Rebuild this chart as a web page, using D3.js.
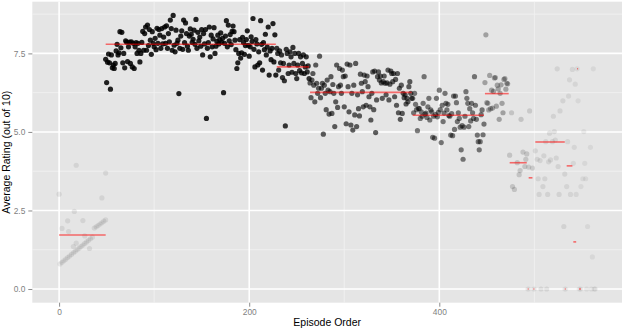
<!DOCTYPE html>
<html>
<head>
<meta charset="utf-8">
<script src="https://cdn.jsdelivr.net/npm/d3@7"></script>
<style>
  body { margin: 0; background: #fff; }
  svg { display: block; }
  text { font-family: "Liberation Sans", Arial, Helvetica, sans-serif; }
</style>
</head>
<body>
<svg id="chart" width="625" height="332"></svg>
<script>
// ---- Episode ratings, one array per season (consecutive episodes, null = no rating) ----
const s1Ratings = [3.02,
  0.80, null, 0.85, null, 0.90, null, 0.95, null, 1.00, null, 1.05, null, 1.10, null, 1.15, null, 1.20, null,
  1.25, null, 1.30, null, 1.35, null, 1.40, null, 1.45, null, 1.50, null, 1.55, null, 1.60, null, 1.65, null,
  1.94, null, 1.98, null, 2.02, null, 2.07, null, 2.11, null, 2.16, null, 2.20];
// season 1 episodes listed a second time (episode order, rating)
const s1Extra = [[3, 1.93], [9, 2.17], [10, 1.83], [15, 1.35], [16, 2.47], [18, 3.94], [18, 1.46],
  [25, 2.18], [27, 1.69], [32, 1.29], [45, 2.90], [49, 3.69]];
const s2Ratings = [
  7.31, 6.57, 7.22, 7.48, 7.20, 6.36, 7.45, 7.04, 7.13, 7.02,
  7.18, 7.58, 7.79, 7.45, 7.52, 8.19, 7.68, 8.17, 7.20, 7.50,
  7.04, 7.90, 7.86, 7.24, 7.71, 7.86, 7.18, 7.87, 7.07, 7.82,
  7.02, 7.71, 7.84, 7.50, 7.82, 7.60, 7.23, 7.50, 7.85, 8.20,
  7.60, 8.13, 8.34, 7.60, 8.40, 7.75, 8.26, 7.92, 7.47, 8.19,
  7.82, 7.71, 7.98, 7.62, 8.30, 7.82, 8.26, 8.08, 7.66, 8.29,
  7.80, 8.02, 8.34, 7.82, 8.38, 7.66, 8.13, 7.87, 8.56, 8.29,
  7.60, 8.71, 7.76, 7.55, 8.24, 7.82, 7.92, 6.22, 7.66, 8.05,
  8.22, 7.63, 8.56, 7.84, 8.47, 8.13, 7.73, 7.60, 8.05, 8.28,
  8.11, 7.85, 7.95, 8.24, 7.79, 8.58, 7.66, 8.17, 7.90, 8.02,
  7.73, 8.26, 7.45, 8.13, 7.80, 8.26, 5.43, 7.66, 7.84, 8.34,
  7.39, 8.08, 7.71, 7.96, 8.32, 7.50, 7.73, 7.88, 8.08, 7.80,
  7.94, 8.15, 7.85, 7.98, 6.25, 7.82, 8.05, 8.54, 7.71, 8.40,
  7.90, 8.10, 7.78, 8.20, 8.37, 8.19, 7.92, 7.62, 7.02, 7.20,
  7.50, 7.94, 7.35, 7.52, 8.01, 7.85, 7.47, 7.75, 7.94, 8.22,
  7.76, 7.41, 7.71, 8.03, 7.88, 8.61, 7.63, 7.07, 7.94, 7.80,
  7.13, 7.55, 7.20, 8.54, 7.79, 6.97, 7.84, 7.62, 8.11, 7.45,
  7.70, 8.34, 6.81, 7.58, 7.30, 7.66, 8.45, 7.23, 8.09, 6.81];
const s3Ratings = [
  7.66, 7.50, 6.97, 7.58, 7.20, 7.45, 6.73, 7.18, 6.63, 5.19,
  7.63, 7.50, 6.86, 7.13, 7.55, 7.39, 6.90, 7.69, 7.18, 7.50,
  6.86, 6.70, 7.13, 7.50, 6.95, 7.39, 6.88, 7.18, 7.45, 6.86,
  7.07, 7.39, 6.91, 7.10, 6.70];
const s4Ratings = [
  6.56, 6.09, 6.65, 6.86, 6.49, 5.96, 7.13, 6.55, 6.23, 6.39,
  7.41, 6.09, 6.39, 6.55, 4.93, 6.49, 6.23, 5.71, 6.65, 6.33,
  5.57, 6.28, 6.76, 5.59, 6.51, 6.23, 5.17, 5.96, 7.13, 5.78,
  6.44, 7.02, 6.49, 6.23, 6.97, 6.76, 5.80, 6.78, 5.26, 7.16,
  6.44, 5.64, 7.13, 5.22, 6.23, 5.06, 6.49, 5.54, 7.18, 5.17,
  6.18, 5.74, 5.51, 6.84, 6.55, 6.28, 5.80, 6.81, 6.60, 5.85,
  6.78, 6.44, 6.12, 5.80, 5.38, 6.23, 6.91, 5.71, 6.94, 4.98,
  6.02, 6.76, 6.91, 6.65, 6.78, 6.56, 6.07, 6.60, 6.78, 6.55,
  6.18, 6.56, 6.97, 6.02, 6.52, 6.94, 6.86, 6.60, 6.86, 6.12,
  6.67, 5.85, 6.86, 5.61, 6.39, 5.40, 6.49, 5.59, 6.23, 6.09,
  6.18, 5.89, 6.07, 5.96, 6.44, 6.60, 6.23, 6.07];
const s5Ratings = [
  6.07, 5.61, 6.23, 5.88, 5.71, 5.04, 5.75, 5.74, 5.43, 5.64,
  5.50, 5.91, 6.76, 5.57, 5.60, 5.46, 5.80, 6.07, 5.38, 5.70,
  5.64, 4.83, 5.50, 4.80, 5.55, 6.07, 5.48, 5.62, 6.33, 5.71,
  4.66, 5.85, 5.33, 5.60, 6.23, 5.91, 5.70, 5.88, 5.52, 5.50,
  4.90, 5.58, 4.88, 6.14, 5.08, 6.14, 5.93, 5.33, 5.61, 5.43,
  5.15, 4.43, 5.20, 4.13, 5.15, 5.50, 6.28, 6.07, 5.91, 5.17,
  5.74, 5.35, 5.91, 5.61, 5.43, 6.76, 5.85, 5.40, 4.90, 4.69,
  4.43, 4.69, 5.55, 5.70, 4.91, 5.25];
const s6Ratings = [
  6.57, 8.09, 5.93, 5.91, 5.70, 6.80, 5.74, 6.33, 5.76, 6.29,
  6.72, 6.73, 5.82, 6.49, 6.37, 5.40, 6.23, 6.50, 5.91, 5.61,
  6.67, 6.70, 6.36, 6.55, 6.53, null];
const s7Ratings = [4.26, null, 5.61, 3.26, null, 3.17, null, null, 4.02, null,
  3.64, 3.77, 5.40, null, 4.36, null, 3.90, 4.13, 4.30];
const s8Ratings = [3.88, 5.67, null, null, 3.85];
const s9Ratings = [4.40, null, 4.13, 3.51, 3.01, 4.09, 0, null, 3.26, 4.24,
  3.51, 4.69, 0, 3.01, 4.05, 4.96, 4.11, null, 4.69, 5.50,
  5.01, 4.74, 4.17, 7.01, 3.90, 3.01, 5.67, null, null, 5.99, 1.99, 3.66];
const s10Ratings = [3.26, 4.69, 6.14, 6.66, 3.01, null, 6.99];
const s11Ratings = [4.00, 4.51, 6.52, 3.01];
const s12Ratings = [7.01, null];
const unratedA = [0, 0];
const unratedB = [0, 0];
const unratedC = [0, 0];
const unratedD = [0, 0, 0];
const lateRatings = [5.99, null, null, 3.26, null, 3.51, 5.01, 4.00, 3.51, 0,
  1.99, null, null, 4.51, 0, 1.02, 7.01, 0, 0];

// ---- Season table: first episode, ratings, season mean (null = no mean line), vote count (thousands) ----
const seasonRatings = [s1Ratings, s2Ratings, s3Ratings, s4Ratings, s5Ratings, s6Ratings, s7Ratings,
  unratedA, s8Ratings, unratedB, s9Ratings, unratedC, s10Ratings, s11Ratings, s12Ratings, unratedD, lateRatings];
const seasonFirst = [0, 49, 229, 264, 372, 448, 474, 493, 494, 499, 501, 532, 534, 541, 545, 547, 546];
const seasonMean  = [1.72, 7.79, 7.07, 6.26, 5.53, 6.22, 4.02, 0, 3.54, 0, 4.68, 0, 3.92, 1.50, 7.01, 0, null];
const seasonVotes = [0.4, 4.3, 3.9, 3.1, 2.5, 1.5, 0.75, 0.2, 0.6, 0.2, 0.42, 0.2, 0.38, 0.33, 0.3, 0.2, 0.3];

// axis ticks
const xMajor = [0, 200, 400];
const xMinor = [100, 300, 500];
const yMajor = [0, 2.5, 5.0, 7.5];
const yMinor = [1.25, 3.75, 6.25, 8.75];

// ---- Build point and segment records ----
const points = [];
seasonRatings.forEach((arr, i) => {
  arr.forEach((r, j) => {
    if (r !== null) points.push({ ep: seasonFirst[i] + j, rating: r, votes: seasonVotes[i] });
  });
});
s1Extra.forEach(([ep, r]) => points.push({ ep, rating: r, votes: seasonVotes[0] }));

const segments = seasonRatings
  .map((arr, i) => ({ x0: seasonFirst[i], x1: seasonFirst[i] + arr.length - 1, mean: seasonMean[i] }))
  .filter(d => d.mean !== null);

// ---- Layout ----
const svg = d3.select("#chart");
const panel = { left: 32.3, right: 622, top: 1.7, bottom: 302.7 };

function expand(ext, f) {
  const pad = (ext[1] - ext[0]) * f;
  return [ext[0] - pad, ext[1] + pad];
}
const x = d3.scaleLinear()
  .domain(expand(d3.extent(points, d => d.ep), 0.05))
  .range([panel.left, panel.right]);
const y = d3.scaleLinear()
  .domain(expand(d3.extent(points, d => d.rating), 0.05))
  .range([panel.bottom, panel.top]);
const alpha = d3.scaleLinear().domain([0, 5]).range([0, 1]).clamp(true);

// panel background
svg.append("rect")
  .attr("x", panel.left).attr("y", panel.top)
  .attr("width", panel.right - panel.left).attr("height", panel.bottom - panel.top)
  .attr("fill", "#E5E5E5");

const grid = svg.append("g");
// minor grid
grid.selectAll(".vminor").data(xMinor).join("line")
  .attr("x1", d => x(d)).attr("x2", d => x(d))
  .attr("y1", panel.top).attr("y2", panel.bottom)
  .attr("stroke", "#F2F2F2").attr("stroke-width", 0.8);
grid.selectAll(".hminor").data(yMinor).join("line")
  .attr("y1", d => y(d)).attr("y2", d => y(d))
  .attr("x1", panel.left).attr("x2", panel.right)
  .attr("stroke", "#F2F2F2").attr("stroke-width", 0.8);
// major grid
grid.selectAll(".vmajor").data(xMajor).join("line")
  .attr("x1", d => x(d)).attr("x2", d => x(d))
  .attr("y1", panel.top).attr("y2", panel.bottom)
  .attr("stroke", "#FFFFFF").attr("stroke-width", 1.6);
grid.selectAll(".hmajor").data(yMajor).join("line")
  .attr("y1", d => y(d)).attr("y2", d => y(d))
  .attr("x1", panel.left).attr("x2", panel.right)
  .attr("stroke", "#FFFFFF").attr("stroke-width", 1.6);

// episode points
svg.append("g").selectAll("circle").data(points).join("circle")
  .attr("cx", d => x(d.ep))
  .attr("cy", d => y(d.rating))
  .attr("r", 2.6)
  .attr("fill", "#000")
  .attr("fill-opacity", d => alpha(d.votes));

// season mean lines
svg.append("g").selectAll("line").data(segments).join("line")
  .attr("x1", d => x(d.x0)).attr("x2", d => x(d.x1))
  .attr("y1", d => y(d.mean)).attr("y2", d => y(d.mean))
  .attr("stroke", "#FF0000").attr("stroke-opacity", 0.55)
  .attr("stroke-width", 1.6);

// axes
function styleAxis(g) {
  g.select(".domain").remove();
  g.selectAll(".tick line").attr("stroke", "#7F7F7F").attr("stroke-width", 0.9);
  g.selectAll(".tick text").attr("fill", "#7F7F7F").style("font-size", "8.4px");
}
svg.append("g")
  .attr("transform", `translate(0,${panel.bottom})`)
  .call(d3.axisBottom(x).tickValues(xMajor).tickFormat(d3.format("d")).tickSize(4).tickPadding(2.5))
  .call(styleAxis);
svg.append("g")
  .attr("transform", `translate(${panel.left},0)`)
  .call(d3.axisLeft(y).tickValues(yMajor).tickFormat(d3.format(".1f")).tickSize(4).tickPadding(3))
  .call(styleAxis);

// axis titles
svg.append("text")
  .attr("x", (panel.left + panel.right) / 2).attr("y", 326)
  .attr("text-anchor", "middle").attr("fill", "#000")
  .style("font-size", "10.5px")
  .text("Episode Order");
svg.append("text")
  .attr("transform", `translate(9.8,${(panel.top + panel.bottom) / 2}) rotate(-90)`)
  .attr("text-anchor", "middle").attr("fill", "#000")
  .style("font-size", "10.5px")
  .text("Average Rating (out of 10)");
</script>
</body>
</html>
